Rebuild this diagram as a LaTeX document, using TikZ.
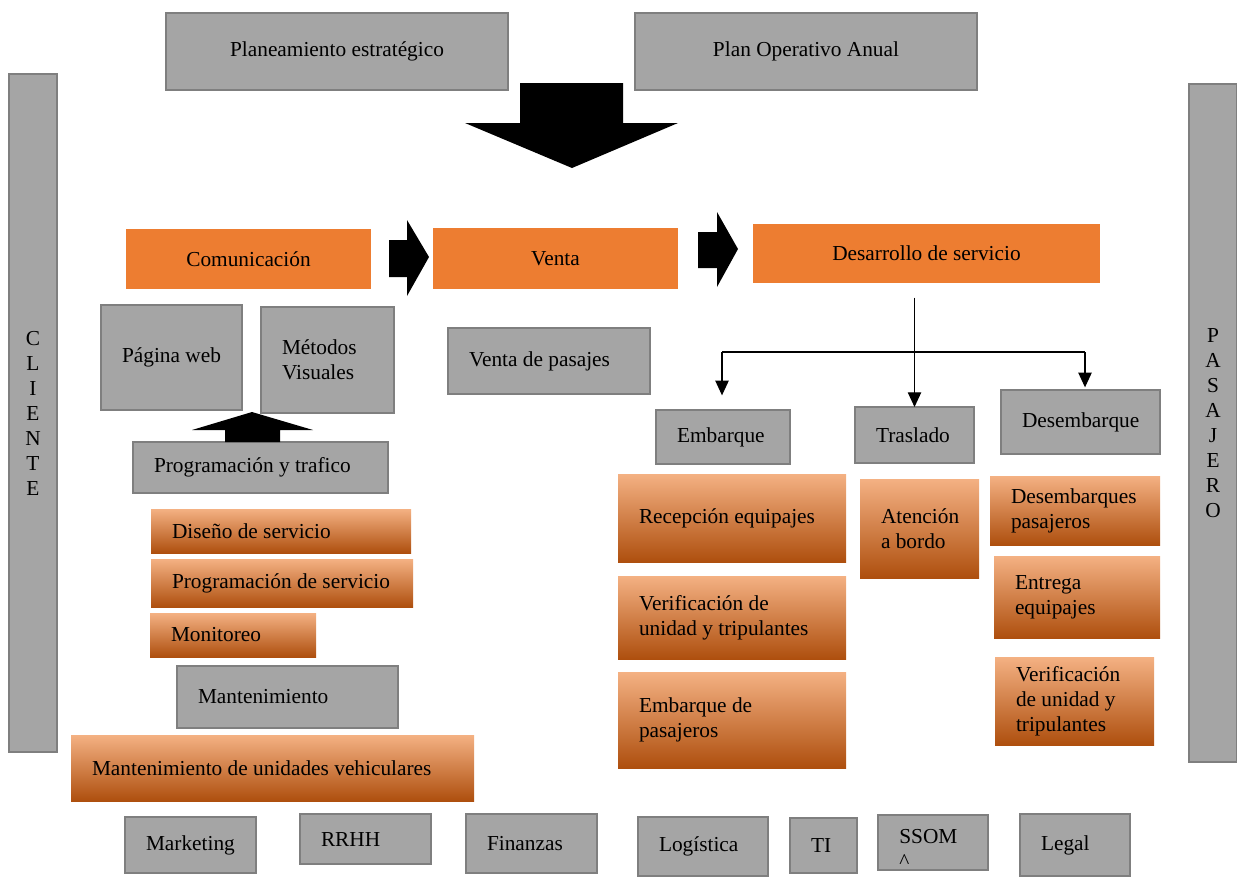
\documentclass[tikz,border=0pt]{standalone}
\usepackage{fontspec}
\setmainfont[HyphenChar=None]{Liberation Serif}
\usetikzlibrary{arrows.meta}

\definecolor{boxgray}{HTML}{A5A5A5}
\definecolor{edgegray}{HTML}{7F7F7F}
\definecolor{accent}{HTML}{ED7D31}
\definecolor{gradtop}{HTML}{F4B183}
\definecolor{gradbot}{HTML}{AE4F0E}

\tikzset{
  base/.style={font=\fontsize{16}{18.75}\selectfont, inner ysep=0pt,
    inner xsep=15.75pt, outer sep=0pt, anchor=north west},
  graybox/.style={base, fill=boxgray, draw=edgegray, line width=1.6pt},
  sidebar/.style={graybox, inner xsep=0pt},
  flatbox/.style={base, fill=accent},
  gradbox/.style={base, top color=gradtop, middle color=accent, bottom color=gradbot},
  conn/.style={draw=black, line width=0.9pt, -{Triangle[width=10pt,length=11pt]}},
  plainline/.style={draw=black, line width=0.9pt},
  blockarrow/.style={fill=black}
}

% box given by its corners in pixel units, text set flush left
\newcommand\leftbox[7]{%
  \pgfmathsetmacro\bxw{(#5-#3)*0.75}%
  \pgfmathsetmacro\bxh{(#6-#4)*0.75}%
  \pgfmathsetmacro\bxt{(#5-#3-42)*0.75}%
  \node[#1, minimum width=\bxw pt, minimum height=\bxh pt, text width=\bxt pt, align=flush left] (#2) at (#3,#4) {#7};}
% box given by its corners in pixel units, text centred
\newcommand\midbox[7]{%
  \pgfmathsetmacro\bxw{(#5-#3)*0.75}%
  \pgfmathsetmacro\bxh{(#6-#4)*0.75}%
  \node[#1, minimum width=\bxw pt, minimum height=\bxh pt, align=center] (#2) at (#3,#4) {#7};}

\begin{document}
\begin{tikzpicture}[x=0.75pt, y=-0.75pt]
\useasboundingbox (0,0) rectangle (1237,876);

% planning level
\midbox{graybox}{plan}{166}{13}{508}{90}{Planeamiento estratégico}
\midbox{graybox}{poa}{635}{13}{977}{90}{Plan Operativo Anual}
\fill[blockarrow] (520,83) -- (623,83) -- (623,123) -- (678,123) -- (572,168)
  -- (465,123) -- (520,123) -- cycle;

% side bars
\midbox{sidebar}{cliente}{9}{74}{57}{752}{C\\L\\I\\E\\N\\T\\E}
\midbox{sidebar}{pasajero}{1189}{84}{1237}{762}{P\\A\\S\\A\\J\\E\\R\\O}

% main process
\midbox{flatbox}{com}{126}{229}{371}{289}{Comunicación}
\midbox{flatbox}{venta}{433}{228}{678}{289}{Venta}
\midbox{flatbox}{desarrollo}{753}{224}{1100}{283}{Desarrollo de servicio}
\fill[blockarrow] (389,240) -- (407,240) -- (407,220) -- (429,257) -- (407,296)
  -- (407,277) -- (389,277) -- cycle;
\fill[blockarrow] (698,232) -- (717,232) -- (717,212) -- (738,249) -- (717,287)
  -- (717,268) -- (698,268) -- cycle;

% communication branch
\leftbox{graybox}{web}{101}{305}{242}{410}{Página~web}
\leftbox{graybox}{metodos}{261}{307}{394}{413}{Métodos\\Visuales}
\leftbox{graybox}{progtraf}{133}{442}{388}{493}{Programación~y~trafico}
\fill[blockarrow] (225,442) -- (225,430) -- (192,430) -- (252,412) -- (313,430)
  -- (280,430) -- (280,442) -- cycle;
\leftbox{gradbox}{diseno}{151}{509}{411}{553}{Diseño~de~servicio}
\leftbox{gradbox}{progserv}{151}{559}{413}{607}{Programación~de~servicio}
\leftbox{gradbox}{monitoreo}{150}{613}{316}{657}{Monitoreo}
\leftbox{graybox}{mant}{177}{666}{398}{728}{Mantenimiento}
\leftbox{gradbox}{mantuv}{71}{735}{474}{801}{Mantenimiento~de~unidades~vehiculares}

% sales branch
\leftbox{graybox}{pasajes}{448}{328}{650}{394}{Venta~de~pasajes}

% service branch
\leftbox{graybox}{embarque}{656}{410}{790}{464}{Embarque}
\leftbox{graybox}{traslado}{855}{407}{974}{463}{Traslado}
\leftbox{graybox}{desemb}{1001}{390}{1160}{454}{Desembarque}

\coordinate (busL) at (722,352);
\coordinate (busR) at (1085,352);
\draw[conn] ([yshift=-11pt]desarrollo.south -| traslado.north) -- (traslado.north);
\draw[plainline] (busL) -- (busR);
\draw[conn] (busL) -- ([yshift=11pt]busL |- embarque.north);
\draw[conn] (busR) -- ([yshift=2pt]busR |- desemb.north);

\leftbox{gradbox}{recep}{618}{474}{846}{562}{Recepción~equipajes}
\leftbox{gradbox}{verif}{618}{576}{846}{659}{Verificación~de\\unidad~y~tripulantes}
\leftbox{gradbox}{embpas}{618}{672}{846}{768}{Embarque~de\\pasajeros}
\leftbox{gradbox}{atencion}{860}{479}{979}{578}{Atención\\a~bordo}
\leftbox{gradbox}{desembpas}{990}{476}{1160}{545}{Desembarques\\pasajeros}
\leftbox{gradbox}{entrega}{994}{556}{1160}{638}{Entrega\\equipajes}
\leftbox{gradbox}{verifb}{995}{657}{1154}{745}{Verificación\\de~unidad~y\\tripulantes}

% support areas
\leftbox{graybox}{marketing}{125}{817}{256}{873}{Marketing}
\leftbox{graybox}{rrhh}{300}{814}{431}{864}{RRHH}
\leftbox{graybox}{finanzas}{466}{814}{597}{873}{Finanzas}
\leftbox{graybox}{logistica}{638}{817}{768}{876}{Logística}
\leftbox{graybox}{ti}{790}{818}{857}{873}{TI}
\leftbox{graybox}{ssom}{878}{815}{988}{870}{}
\node[font=\fontsize{16}{18.75}\selectfont, inner sep=0pt, anchor=north west, align=left]
  (ssomtext) at (899,829) {SSOM\\\textasciicircum};
\leftbox{graybox}{legal}{1020}{814}{1130}{876}{Legal}
\end{tikzpicture}
\end{document}
